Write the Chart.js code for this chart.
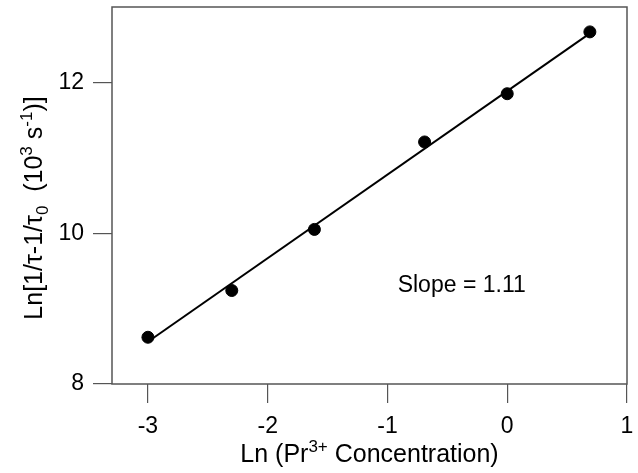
<!DOCTYPE html>
<html>
<head>
<meta charset="utf-8">
<script src="https://cdn.jsdelivr.net/npm/chart.js@4.4.0/dist/chart.umd.min.js"></script>
<style>
  html, body { margin: 0; padding: 0; background: #fff; }
  #wrap { width: 638px; height: 473px; }
</style>
</head>
<body>
<div id="wrap"><canvas id="c"></canvas></div>
<script>
// measured points
const lnConc = [-3.0, -2.3, -1.61, -0.69, 0, 0.69];
const lnRate = [8.62, 9.24, 10.05, 11.21, 11.85, 12.67];
// fitted line ends
const fitX = [-3.0, 0.69];
const fitY = [8.56, 12.65];
const xTicks = [-3, -2, -1, 0, 1];
const yTicks = [8, 10, 12];
const slopeLabel = 'Slope = 1.11';
const slopeAt = [-0.38, 9.3];

const FONT = '"Liberation Sans", Arial, sans-serif';

// draws text with sub/superscripts, centred on (x, y)
function drawRich(ctx, parts, x, y, size, rot) {
    ctx.save();
    ctx.translate(x, y);
    if (rot) ctx.rotate(rot);
    const small = Math.round(size * 0.68);
    let total = 0;
    parts.forEach(p => {
        ctx.font = (p[1] === 'n' ? size : small) + 'px ' + FONT;
        total += ctx.measureText(p[0]).width;
    });
    let cx = -total / 2;
    ctx.fillStyle = '#000';
    ctx.textBaseline = 'alphabetic';
    ctx.textAlign = 'left';
    parts.forEach(p => {
        ctx.font = (p[1] === 'n' ? size : small) + 'px ' + FONT;
        let dy = size * 0.36;
        if (p[1] === 'sup') dy -= size * 0.42;
        if (p[1] === 'sub') dy += size * 0.25;
        ctx.fillText(p[0], cx, dy);
        cx += ctx.measureText(p[0]).width;
    });
    ctx.restore();
}

const decor = {
    id: 'decor',
    afterDatasetsDraw(chart) {
        const ctx = chart.ctx;
        const a = chart.chartArea;
        ctx.save();
        ctx.strokeStyle = '#555';
        ctx.lineWidth = 1.5;
        ctx.strokeRect(a.left, a.top, a.right - a.left, a.bottom - a.top);
        ctx.restore();

        const xs = chart.scales.x, ys = chart.scales.y;
        ctx.save();
        ctx.font = '23px ' + FONT;
        ctx.fillStyle = '#000';
        ctx.textAlign = 'center';
        ctx.textBaseline = 'middle';
        ctx.fillText(slopeLabel, xs.getPixelForValue(slopeAt[0]), ys.getPixelForValue(slopeAt[1]));
        ctx.restore();

        drawRich(ctx, [['Ln (Pr', 'n'], ['3+', 'sup'], [' Concentration)', 'n']],
            (a.left + a.right) / 2, 453, 25, 0);
        drawRich(ctx, [['Ln[1/\u03c4-1/\u03c4', 'n'], ['0', 'sub'], ['  (10', 'n'], ['3', 'sup'],
            [' s', 'n'], ['-1', 'sup'], [')]', 'n']],
            33, 208, 25, -Math.PI / 2);
    }
};

new Chart(document.getElementById('c'), {
    type: 'scatter',
    data: {
        datasets: [
            {
                label: 'fit',
                type: 'line',
                data: fitX.map((x, i) => ({ x: x, y: fitY[i] })),
                borderColor: '#000',
                borderWidth: 2,
                pointRadius: 0,
                fill: false,
                order: 2
            },
            {
                label: 'data',
                data: lnConc.map((x, i) => ({ x: x, y: lnRate[i] })),
                backgroundColor: '#000',
                borderColor: '#000',
                pointRadius: 6,
                pointHoverRadius: 6,
                order: 1
            }
        ]
    },
    options: {
        responsive: true,
        maintainAspectRatio: false,
        animation: false,
        layout: { padding: { top: 7, right: 11, left: 0, bottom: 0 } },
        plugins: { legend: { display: false }, tooltip: { enabled: false } },
        scales: {
            x: {
                type: 'linear',
                min: -3.3,
                max: 1,
                afterBuildTicks: s => { s.ticks = xTicks.map(v => ({ value: v })); },
                afterFit: s => { s.height = 89; s.paddingLeft = 0; s.paddingRight = 0; },
                grid: { drawOnChartArea: false, tickLength: 19, color: '#555', lineWidth: 1.2 },
                border: { display: false },
                ticks: { color: '#000', font: { size: 23, family: FONT }, padding: 10, maxRotation: 0 }
            },
            y: {
                min: 8,
                max: 13,
                afterBuildTicks: s => { s.ticks = yTicks.map(v => ({ value: v })); },
                afterFit: s => { s.width = 112; s.paddingTop = 0; s.paddingBottom = 0; },
                grid: { drawOnChartArea: false, tickLength: 19, color: '#555', lineWidth: 1.2 },
                border: { display: false },
                ticks: { color: '#000', font: { size: 23, family: FONT }, padding: 9 }
            }
        }
    },
    plugins: [decor]
});
</script>
</body>
</html>
